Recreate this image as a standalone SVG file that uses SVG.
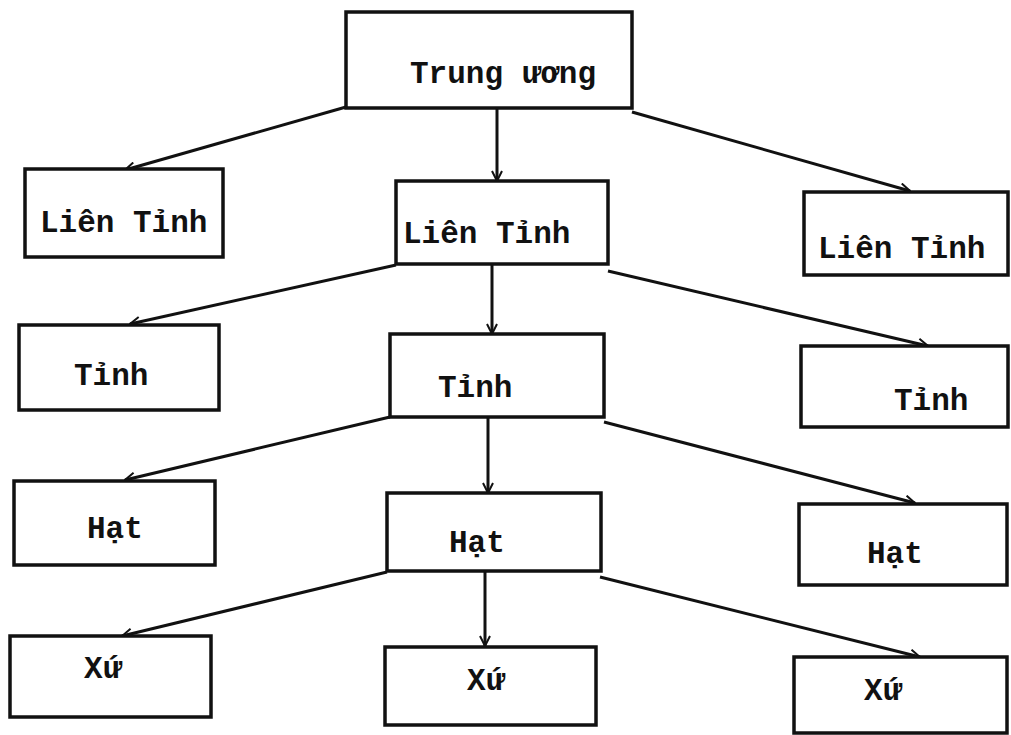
<svg xmlns="http://www.w3.org/2000/svg" width="1011" height="735" viewBox="0 0 1011 735">
<style>
.box{fill:#fff;stroke:#111;stroke-width:3.5}
.lbl{font-family:"Liberation Mono","Courier New",monospace;font-size:31px;font-weight:bold;fill:#111}
.con{stroke:#111;stroke-width:3;fill:none;marker-end:url(#arr)}
</style>
<defs>
<marker id="arr" viewBox="0 0 12 12" refX="11" refY="6" markerWidth="12" markerHeight="12" markerUnits="userSpaceOnUse" orient="auto">
<path d="M1,1 L11,6 L1,11" fill="none" stroke="#111" stroke-width="2"/>
</marker>
</defs>
<rect width="1011" height="735" fill="#fff"/>
<g id="connectors">
<line class="con" x1="346" y1="107" x2="125" y2="170"/>
<line class="con" x1="497" y1="108" x2="497" y2="181"/>
<line class="con" x1="632" y1="112" x2="910" y2="191"/>
<line class="con" x1="396" y1="265" x2="130" y2="324"/>
<line class="con" x1="492" y1="265" x2="492" y2="334"/>
<line class="con" x1="608" y1="271" x2="928" y2="346"/>
<line class="con" x1="390" y1="417" x2="125" y2="480"/>
<line class="con" x1="488" y1="418" x2="488" y2="493"/>
<line class="con" x1="604" y1="422" x2="915" y2="503"/>
<line class="con" x1="387" y1="572" x2="122" y2="636"/>
<line class="con" x1="485" y1="572" x2="485" y2="646"/>
<line class="con" x1="600" y1="577" x2="920" y2="657"/>
</g>
<g id="n-trung-uong"><rect class="box" x="346" y="12" width="286" height="96"/><text class="lbl" x="410" y="83">Trung ương</text></g>
<g id="n-lt-left"><rect class="box" x="25" y="169" width="198" height="88"/><text class="lbl" x="40" y="232">Liên Tỉnh</text></g>
<g id="n-lt-mid"><rect class="box" x="396" y="181" width="212" height="83"/><text class="lbl" x="403" y="243">Liên Tỉnh</text></g>
<g id="n-lt-right"><rect class="box" x="804" y="192" width="204" height="83"/><text class="lbl" x="818" y="258">Liên Tỉnh</text></g>
<g id="n-t-left"><rect class="box" x="19" y="325" width="200" height="85"/><text class="lbl" x="74" y="385">Tỉnh</text></g>
<g id="n-t-mid"><rect class="box" x="390" y="334" width="214" height="83"/><text class="lbl" x="438" y="397">Tỉnh</text></g>
<g id="n-t-right"><rect class="box" x="801" y="346" width="207" height="81"/><text class="lbl" x="894" y="410">Tỉnh</text></g>
<g id="n-h-left"><rect class="box" x="14" y="481" width="201" height="84"/><text class="lbl" x="87" y="538">Hạt</text></g>
<g id="n-h-mid"><rect class="box" x="387" y="493" width="214" height="78"/><text class="lbl" x="449" y="552">Hạt</text></g>
<g id="n-h-right"><rect class="box" x="799" y="504" width="208" height="81"/><text class="lbl" x="867" y="563">Hạt</text></g>
<g id="n-x-left"><rect class="box" x="10" y="636" width="201" height="81"/><text class="lbl" x="84" y="678">Xứ</text></g>
<g id="n-x-mid"><rect class="box" x="385" y="647" width="211" height="78"/><text class="lbl" x="467" y="690">Xứ</text></g>
<g id="n-x-right"><rect class="box" x="794" y="657" width="213" height="76"/><text class="lbl" x="864" y="700">Xứ</text></g>
</svg>
